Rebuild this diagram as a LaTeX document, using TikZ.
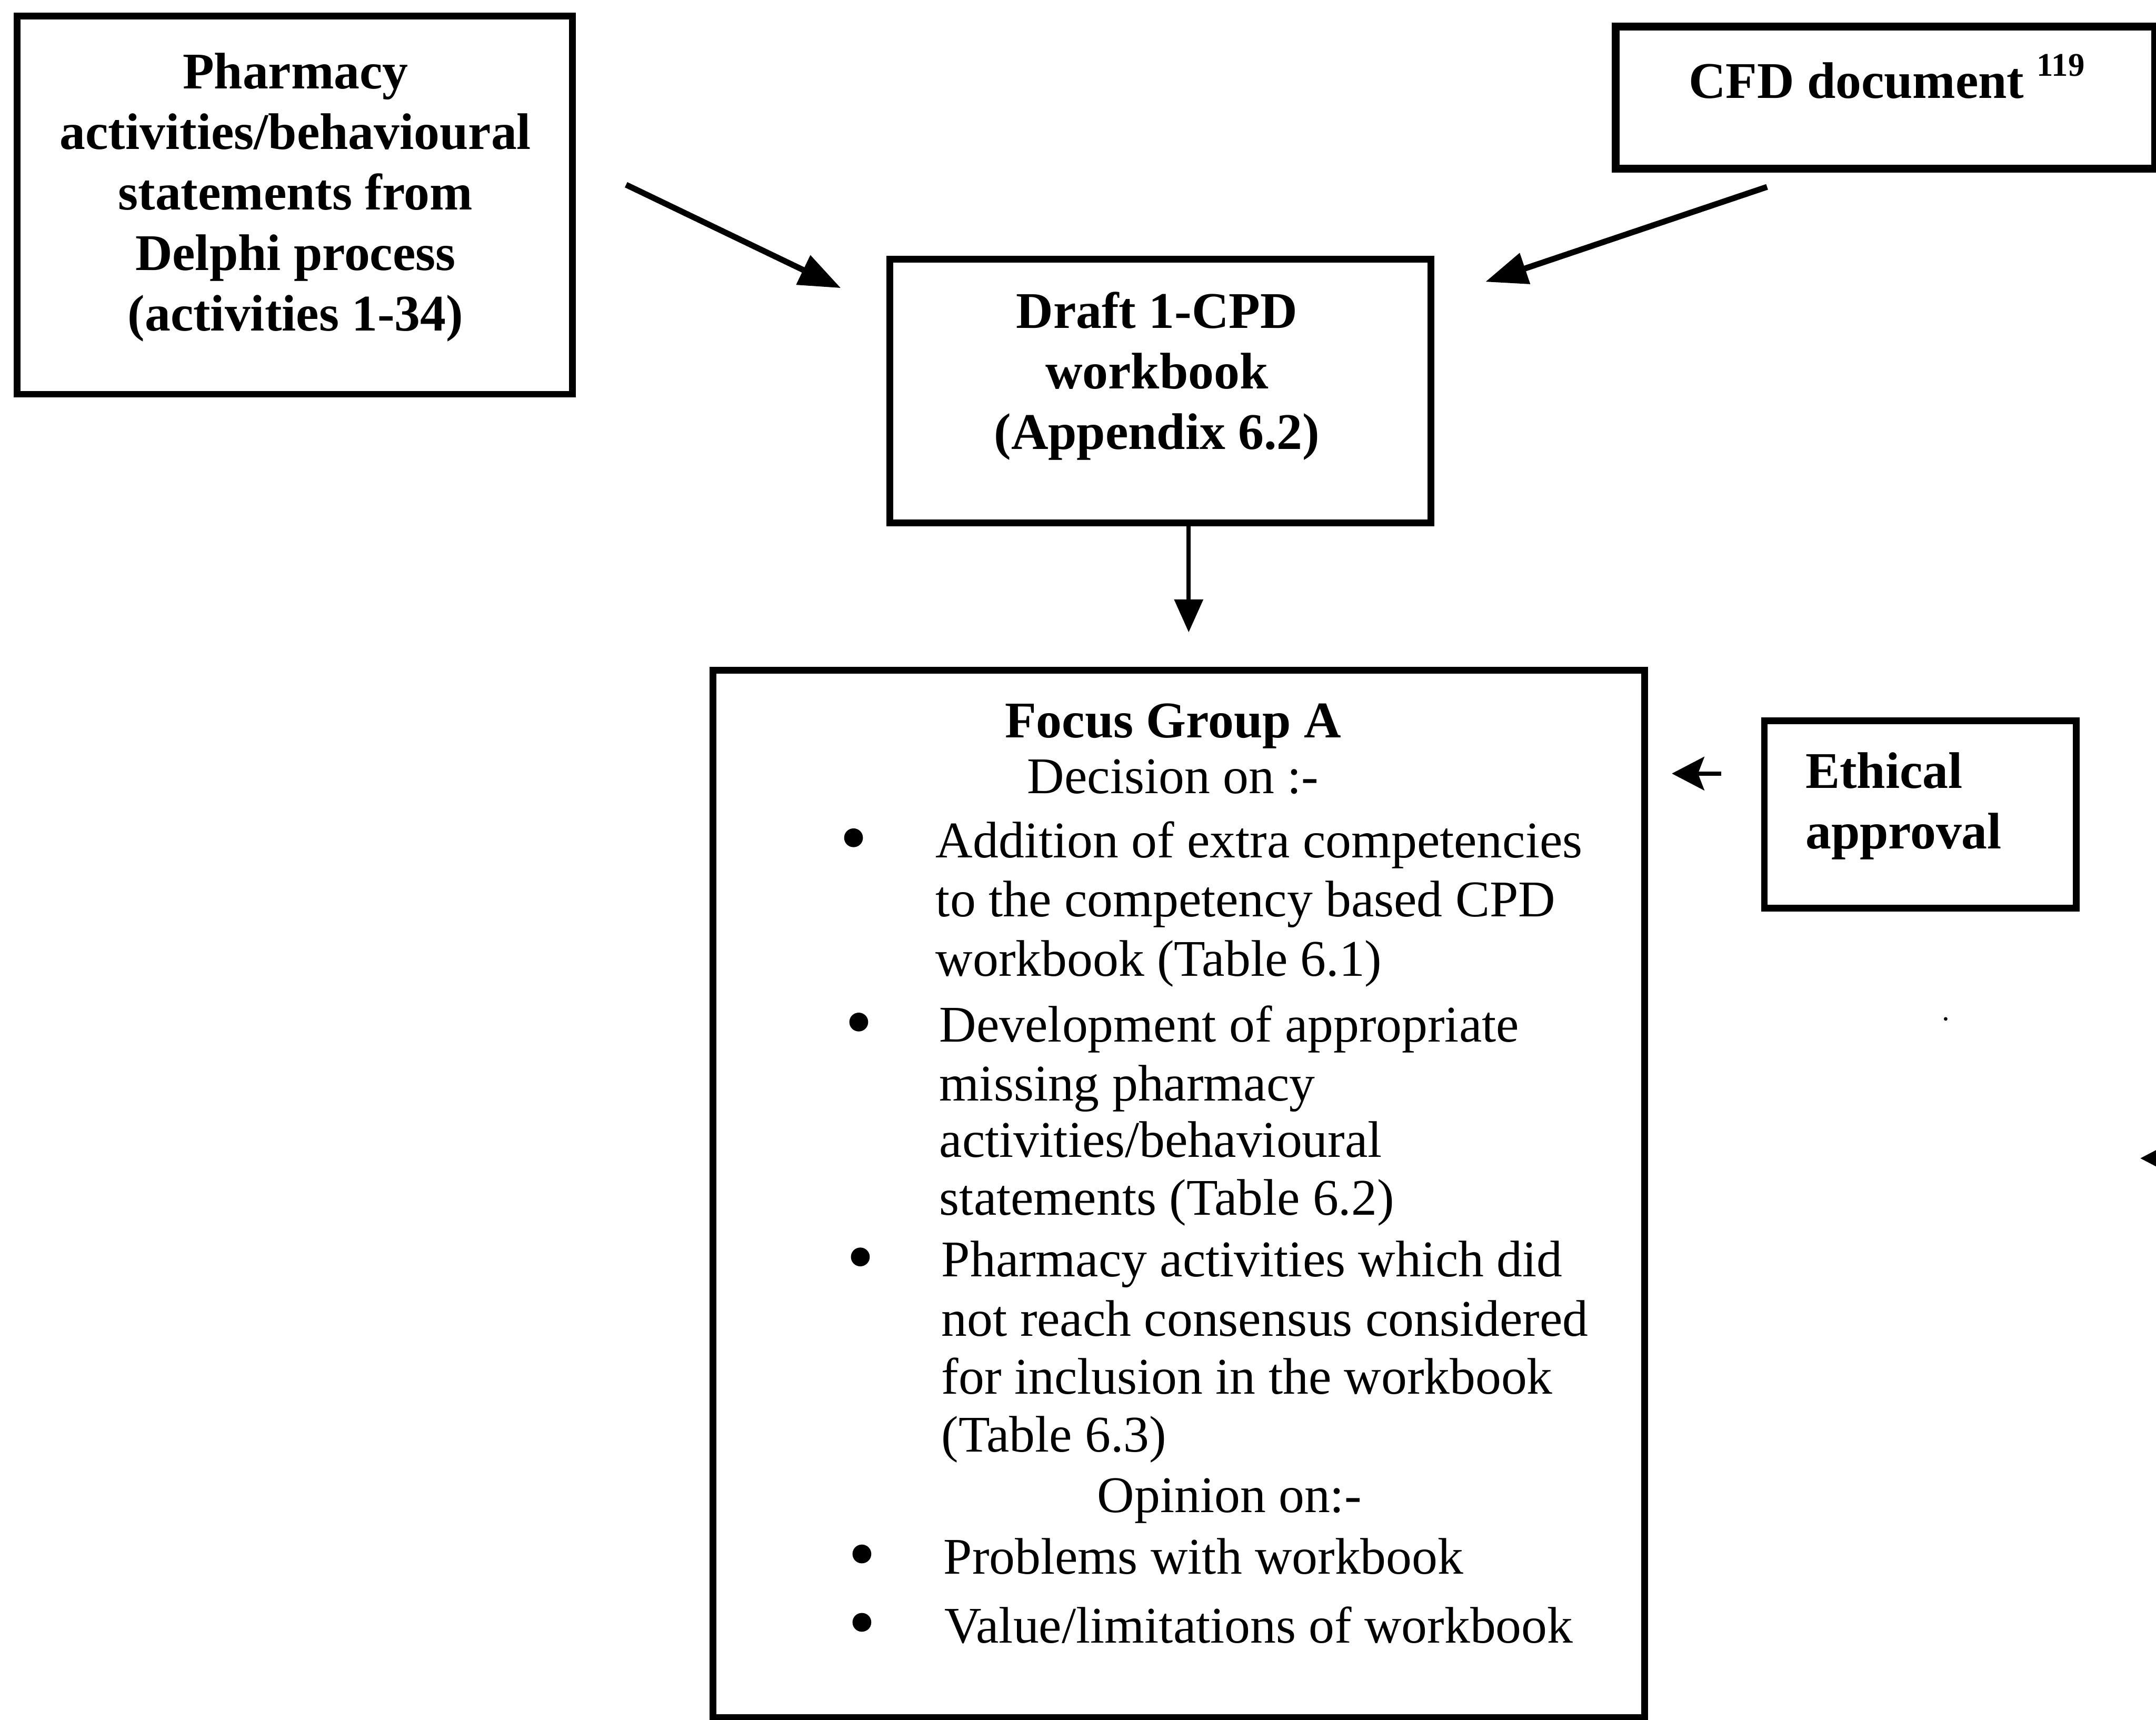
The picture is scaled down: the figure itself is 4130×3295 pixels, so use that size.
\documentclass[tikz,border=0pt]{standalone}
\usepackage{fontspec}
\setmainfont{Liberation Serif}
\usetikzlibrary{arrows.meta}
\begin{document}
\begin{tikzpicture}[x=0.01cm, y=-0.01cm,
  box/.style={draw, line width=0.13cm, inner sep=0pt},
  txt/.style={font=\fontsize{28pt}{33pt}\selectfont, inner sep=0pt, anchor=base},
  btxt/.style={txt, font=\fontsize{28pt}{33pt}\selectfont\bfseries},
  dot/.style={circle, fill, inner sep=0pt, minimum size=0.36cm},
  fatarrow/.style={line width=3.2pt, -{Triangle[length=0.8cm,width=0.6cm]}},
  thinarrow/.style={line width=2.3pt, -{Triangle[length=0.63cm,width=0.54cm]}},
  smallarrow/.style={line width=2.3pt, -{Stealth[length=0.62cm,width=0.64cm,inset=0.12cm]}}]
\useasboundingbox (0,0) rectangle (4130,3295);
\fill[white] (0,0) rectangle (4130,3295);
\clip (0,0) rectangle (4130,3295);

% boxes
\node[box, minimum width=10.63cm, minimum height=7.24cm] (pharm) at (564.5,393) {};
\node[box, line width=0.15cm, minimum width=10.33cm, minimum height=2.72cm] (cfd) at (3611.5,187) {};
\node[box, minimum width=10.36cm, minimum height=5.05cm] (draft) at (2223,749.5) {};
\node[box, minimum width=17.84cm, minimum height=20.05cm] (focus) at (2258,2287.5) {};
\node[box, minimum width=5.97cm, minimum height=3.59cm] (ethical) at (3678.5,1560.5) {};

% source box text
\foreach \t [count=\i from 0] in {Pharmacy, activities/behavioural, statements from, Delphi process, (activities 1-34)}
  \node[btxt] (pharm-\i) at (566,{170+116*\i}) {\t};

% CFD text
\node[btxt, anchor=base west] (cfd-t) at (3234,188) {CFD document \raisebox{12pt}{\fontsize{18pt}{18pt}\selectfont 119}};

% draft workbook text
\foreach \t [count=\i from 0] in {Draft 1-CPD, workbook, (Appendix 6.2)}
  \node[btxt] (draft-\i) at (2216,{629+116*\i}) {\t};

% ethical approval text
\node[btxt, anchor=base west] (eth-0) at (3458,1510) {Ethical};
\node[btxt, anchor=base west] (eth-1) at (3458,1626) {approval};

% focus group content
\node[btxt] (fg-title) at (2247,1413) {Focus Group A};
\node[txt] (fg-dec) at (2247,1520) {Decision on :-};

\node[dot] (b1) at (1635,1605) {};
\node[txt, anchor=base west] (i1-0) at (1792,1643) {Addition of extra competencies};
\node[txt, anchor=base west] (i1-1) at (1792,1756) {to the competency based CPD};
\node[txt, anchor=base west] (i1-2) at (1792,1870) {workbook (Table 6.1)};

\node[dot] (b2) at (1645,1958) {};
\node[txt, anchor=base west] (i2-0) at (1799,1996) {Development of appropriate};
\node[txt, anchor=base west] (i2-1) at (1799,2109) {missing pharmacy};
\node[txt, anchor=base west] (i2-2) at (1799,2217) {activities/behavioural};
\node[txt, anchor=base west] (i2-3) at (1799,2328) {statements (Table 6.2)};

\node[dot] (b3) at (1648,2408) {};
\node[txt, anchor=base west] (i3-0) at (1803,2446) {Pharmacy activities which did};
\node[txt, anchor=base west] (i3-1) at (1803,2560) {not reach consensus considered};
\node[txt, anchor=base west] (i3-2) at (1803,2670) {for inclusion in the workbook};
\node[txt, anchor=base west] (i3-3) at (1803,2781) {(Table 6.3)};

\node[txt] (fg-op) at (2355,2897) {Opinion on:-};

\node[dot] (b4) at (1651,2977) {};
\node[txt, anchor=base west] (i4-0) at (1807,3015) {Problems with workbook};
\node[dot] (b5) at (1651,3108) {};
\node[txt, anchor=base west] (i5-0) at (1809,3147) {Value/limitations of workbook};

% connectors
\draw[fatarrow, shorten <=1.07cm, shorten >=0.97cm] ([yshift=0.854cm]pharm.east) -- ([yshift=1.555cm]draft.west);
\draw[fatarrow, shorten <=0.861cm, shorten >=1.029cm] ([xshift=-1.449cm]cfd.south) -- ([yshift=1.766cm]draft.east);

\coordinate (dstem) at ([xshift=0.54cm]draft.south);
\draw[thinarrow, shorten >=0.665cm] (dstem) -- (dstem |- focus.north);

\coordinate (etail) at ([yshift=0.785cm]ethical.west);
\draw[smallarrow, shorten <=0.765cm, shorten >=0.455cm] (etail) -- (etail -| focus.east);

% arrow entering from the right edge
\coordinate (offtail) at (4400,2219);
\coordinate (offtip) at (4100,2219);
\draw[smallarrow] (offtail) -- (offtip);

% small speck
\coordinate (speck) at (3727,1952);
\fill (speck) circle[radius=0.035cm];
\end{tikzpicture}
\end{document}
